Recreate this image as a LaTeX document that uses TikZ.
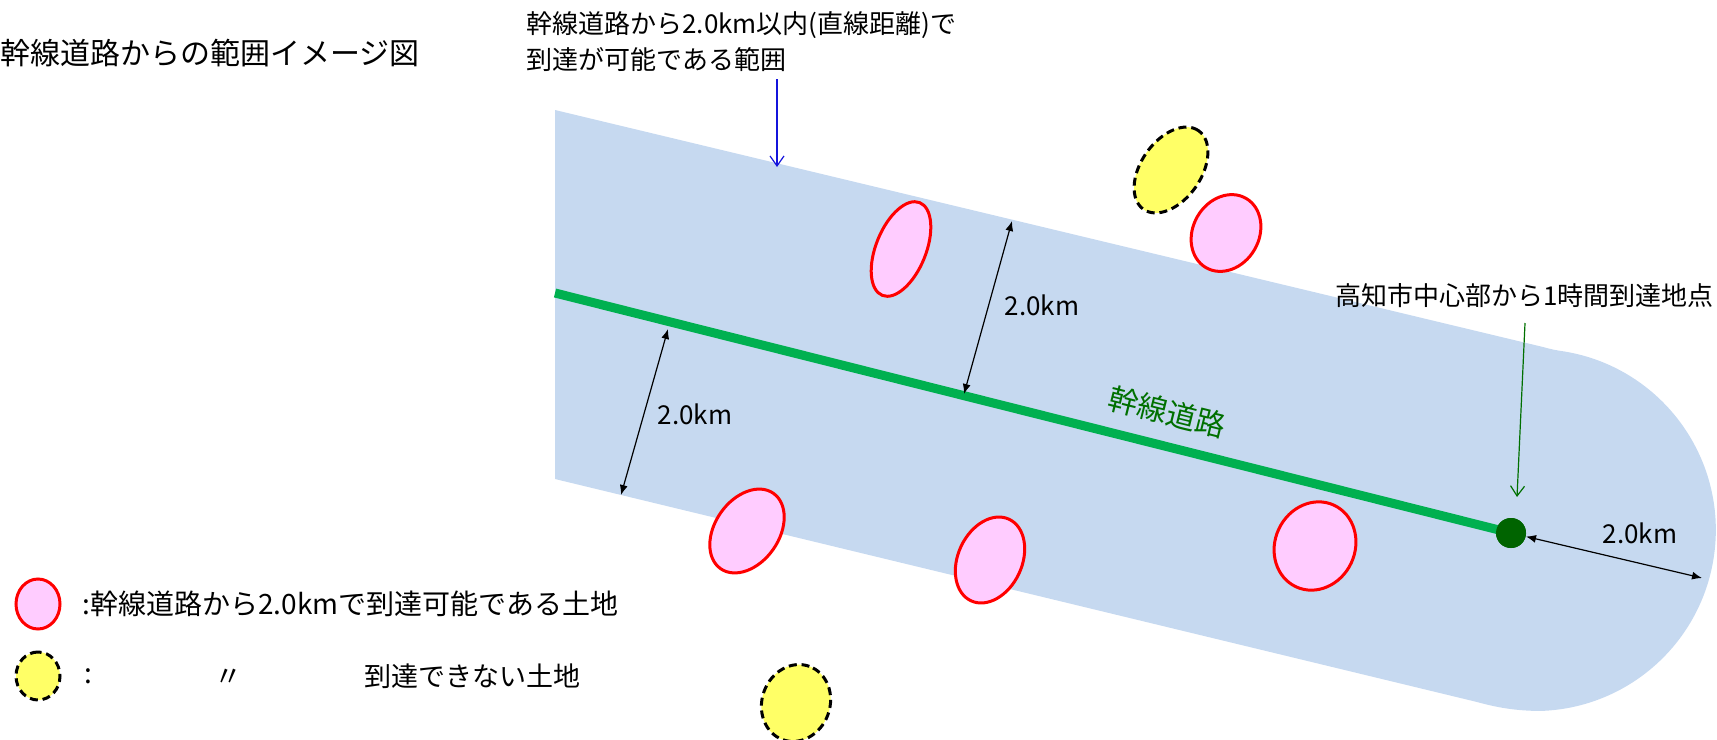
\documentclass[tikz,border=0pt]{standalone}
\usepackage{fontspec}
\setmainfont{Noto Sans CJK JP}
\usetikzlibrary{shapes.geometric,arrows.meta}
\definecolor{bandblue}{RGB}{198,217,240}
\definecolor{pinkfill}{RGB}{255,204,255}
\definecolor{landred}{RGB}{255,0,0}
\definecolor{yellowfill}{RGB}{255,255,102}
\definecolor{roadgreen}{RGB}{0,176,80}
\definecolor{dotgreen}{RGB}{0,100,0}
\definecolor{textgreen}{RGB}{0,112,0}
\definecolor{arrowblue}{RGB}{20,20,220}
\tikzset{
  okland/.style={ellipse, draw=landred, fill=pinkfill, line width=1.5pt, inner sep=0pt},
  ngland/.style={ellipse, draw=black, fill=yellowfill, line width=1.5pt, dash pattern=on 4pt off 2.4pt, inner sep=0pt},
  lbl/.style={font=\fontsize{13pt}{18pt}\selectfont, inner sep=0pt},
  leglbl/.style={font=\fontsize{14pt}{18pt}\selectfont, inner sep=0pt},
  dimarrow/.style={{Latex[length=5pt,width=4pt]}-{Latex[length=5pt,width=4pt]}, line width=0.6pt, black},
  callout/.style={-{Straight Barb[length=5pt,width=7pt]}, line width=0.6pt}
}
\begin{document}
\begin{tikzpicture}[x=0.5pt,y=-0.5pt]
\useasboundingbox (0,0) rectangle (1717,739);
% band
\fill[bandblue] (555,110) -- (1543,347) .. controls (1550,349) and (1555,350) .. (1560,350.8)
  arc[start angle=-82, end angle=88, radius=181]
  .. controls (1515,711) and (1495,707) .. (1477,702) -- (555,479) -- cycle;
% road
\node[circle, fill=dotgreen, minimum size=15pt, inner sep=0pt] (dot) at (1511,533) {};
\coordinate (roadstart) at (555,293);
\draw[roadgreen, line width=4.5pt] (roadstart) -- (dot.center);
\node[circle, fill=dotgreen, minimum size=15pt, inner sep=0pt] (dot2) at (1511,533) {};
\node[font=\fontsize{15pt}{15pt}\selectfont, text=textgreen, rotate=-14, inner sep=0pt] (roadlbl) at (1167,412) {幹線道路};
% lands
\node[okland, minimum width=50pt, minimum height=25pt, rotate=68] (e1) at (901,249) {};
\node[okland, minimum width=40pt, minimum height=33pt, rotate=60] (e2) at (1226,233) {};
\node[ngland, minimum width=48pt, minimum height=30pt, rotate=55] (e3) at (1171,170) {};
\node[okland, minimum width=46pt, minimum height=32pt, rotate=55] (e4) at (747,531) {};
\node[okland, minimum width=45pt, minimum height=32pt, rotate=65] (e5) at (990,560) {};
\node[okland, minimum width=45pt, minimum height=40pt, rotate=65] (e6) at (1315,546) {};
\node[ngland, minimum width=39pt, minimum height=34pt, rotate=70] (e7) at (796,703) {};
% dimension arrows
\coordinate (a1) at (1012,221); \coordinate (a2) at (964,394);
\coordinate (b1) at (668,329); \coordinate (b2) at (621,495);
\coordinate (c2) at (1702,578);
\draw[dimarrow] (a1) -- (a2);
\draw[dimarrow] (b1) -- (b2);
\draw[dimarrow] (dot2) -- (c2);
\node[lbl] (la) at (1042,305) {2.0km};
\node[lbl] (lb) at (695,414) {2.0km};
\node[lbl] (lc) at (1640,533) {2.0km};
% titles and callouts
\node[inner sep=0pt, anchor=west, font=\fontsize{15pt}{15pt}\selectfont] (title) at (0,53) {幹線道路からの範囲イメージ図};
\node[lbl, anchor=west, align=left] (toplbl) at (526,42) {幹線道路から2.0km以内(直線距離)で\\到達が可能である範囲};
\coordinate (bluefrom) at (777,79); \coordinate (blueto) at (777,167);
\draw[callout, arrowblue] (bluefrom) -- (blueto);
\node[lbl, anchor=east] (citylbl) at (1714,296) {高知市中心部から1時間到達地点};
\coordinate (greenfrom) at (1525,323); \coordinate (greento) at (1517,497);
\draw[callout, textgreen] (greenfrom) -- (greento);
% legend
\node[okland, minimum width=25pt, minimum height=22pt, rotate=90] (legok) at (38,604) {};
\node[ngland, minimum width=24pt, minimum height=22pt, rotate=90] (legng) at (38,676) {};
\node[leglbl, anchor=west] (legoktxt) at (82,604) {:幹線道路から2.0kmで到達可能である土地};
\node[leglbl, anchor=west] (legcolon) at (84,676) {:};
\node[leglbl] (legditto) at (228,678) {〃};
\node[leglbl, anchor=west, font=\fontsize{13.5pt}{18pt}\selectfont] (legngtxt) at (364,676) {到達できない土地};
\end{tikzpicture}
\end{document}
